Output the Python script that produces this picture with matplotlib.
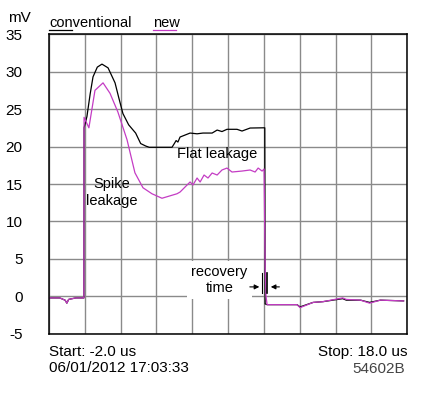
import matplotlib.pyplot as plt
from matplotlib.lines import Line2D

plt.rcParams['font.family'] = ['Liberation Sans', 'DejaVu Sans']

# conventional (black) trace, time in us, level in mV
conv_t = [-2.0, -1.4, -1.1, -1.0, -0.9, -0.5, -0.05, -0.04, 0.12, 0.30, 0.46, 0.70,
          0.96, 1.30, 1.69, 1.90, 2.13, 2.45, 2.84, 3.12, 3.40, 3.60, 4.87, 5.0, 5.1,
          5.2, 5.32, 5.88, 6.27, 6.60, 7.11, 7.39, 7.66, 7.94, 8.50, 8.78, 9.23, 9.96,
          10.05, 10.07, 10.18, 11.85, 12.02, 12.75, 13.3, 14.4, 14.6, 15.4, 15.9,
          16.5, 17.8]
conv_v = [-0.2, -0.2, -0.5, -0.9, -0.4, -0.2, -0.2, 22.5, 24.0, 27.0, 29.3, 30.6,
          31.0, 30.5, 28.5, 26.5, 24.4, 22.9, 21.8, 20.4, 20.07, 19.9, 19.9, 20.4,
          20.8, 20.6, 21.27, 21.8, 21.7, 21.8, 21.8, 22.2, 22.0, 22.3, 22.3, 22.07,
          22.47, 22.5, 22.5, -1.0, -1.1, -1.1, -1.4, -0.8, -0.7, -0.3, -0.5, -0.5,
          -0.8, -0.5, -0.6]

# new (magenta) trace
new_t = [-2.0, -1.4, -1.1, -1.0, -0.9, -0.5, -0.05, -0.04, 0.23, 0.57, 1.02, 1.41,
         1.85, 2.36, 2.80, 3.25, 3.75, 4.31, 4.59, 5.15, 5.32, 5.60, 5.88, 6.04,
         6.27, 6.44, 6.66, 6.88, 7.11, 7.39, 7.66, 7.94, 8.22, 8.78, 9.23, 9.51,
         9.68, 9.90, 10.01, 10.07, 10.12, 10.18, 11.85, 12.02, 12.75, 13.3, 14.4,
         14.6, 15.4, 15.9, 16.5, 17.8]
new_v = [-0.2, -0.2, -0.5, -0.9, -0.4, -0.2, -0.2, 23.9, 22.5, 27.5, 28.5, 27.1,
         24.6, 20.9, 16.5, 14.5, 13.7, 13.1, 13.3, 13.7, 13.93, 14.6, 15.27, 14.87,
         15.8, 15.27, 16.2, 15.8, 16.47, 16.2, 16.87, 17.13, 16.6, 16.73, 16.87, 16.6,
         17.13, 16.73, 17.0, 4.0, 0.0, -1.1, -1.1, -1.5, -0.8, -0.7, -0.2,
         -0.4, -0.5, -0.9, -0.5, -0.6]

y_ticks = [-5, 0, 5, 10, 15, 20, 25, 30, 35]
x_ticks = [-2, 0, 2, 4, 6, 8, 10, 12, 14, 16, 18]
magenta = '#c43cc4'

fig = plt.figure(figsize=(4.45, 3.97), dpi=100)
ax = fig.add_axes([0.110, 0.159, 0.805, 0.755])

ax.plot(conv_t, conv_v, color='black', lw=0.9)
ax.plot(new_t, new_v, color=magenta, lw=0.9)

ax.set_xlim(-2, 18)
ax.set_ylim(-5, 35)
ax.set_xticks(x_ticks)
ax.set_yticks(y_ticks)
ax.set_xticklabels([])
ax.set_yticklabels([str(v) for v in y_ticks], fontsize=11)
ax.tick_params(length=0, pad=19)
ax.grid(True, color='#8a8a8a', lw=1)
for s in ax.spines.values():
    s.set_linewidth(1.1)

# labels inside the plot
ax.text(7.39, 19.0, 'Flat leakage', fontsize=10.5, ha='center', va='center')
ax.text(1.52, 13.9, 'Spike\nleakage', fontsize=10.5, ha='center', va='center',
        linespacing=1.25)
ax.text(7.52, 2.2, 'recovery\ntime', fontsize=10.5, ha='center', va='center',
        linespacing=1.2, bbox=dict(facecolor='white', edgecolor='none', pad=3))

# recovery time markers
ax.annotate('', xy=(9.9, 1.27), xytext=(9.06, 1.27),
            arrowprops=dict(arrowstyle='-|>', color='black', lw=0.8, mutation_scale=7))
ax.annotate('', xy=(10.23, 1.27), xytext=(11.02, 1.27),
            arrowprops=dict(arrowstyle='-|>', color='black', lw=0.8, mutation_scale=7))
ax.plot([9.9, 9.9], [0.47, 3.1], color='black', lw=0.8)
ax.plot([10.2, 10.2], [0.47, 3.1], color='black', lw=1.2)

# axis unit and legend
fig.text(19 / 445, 1 - 18 / 397, 'mV', fontsize=11, ha='center', va='center')
fig.text(49 / 445, 1 - 23 / 397, 'conventional', fontsize=10.5, ha='left', va='center')
fig.text(153 / 445, 1 - 23 / 397, 'new', fontsize=10.5, ha='left', va='center')
fig.add_artist(Line2D([49 / 445, 72 / 445], [1 - 29.5 / 397] * 2, color='black', lw=0.9))
fig.add_artist(Line2D([153 / 445, 176 / 445], [1 - 29.5 / 397] * 2, color=magenta, lw=0.9))

# footer
fig.text(49 / 445, 1 - 352 / 397, 'Start: -2.0 us', fontsize=11, ha='left', va='center')
fig.text(49 / 445, 1 - 368 / 397, '06/01/2012 17:03:33', fontsize=11, ha='left', va='center')
fig.text(407 / 445, 1 - 352 / 397, 'Stop: 18.0 us', fontsize=11, ha='right', va='center')
fig.text(405 / 445, 1 - 369 / 397, '54602B', fontsize=11, ha='right', va='center',
         color='#444444')

fig.savefig('out.png', dpi=100)
